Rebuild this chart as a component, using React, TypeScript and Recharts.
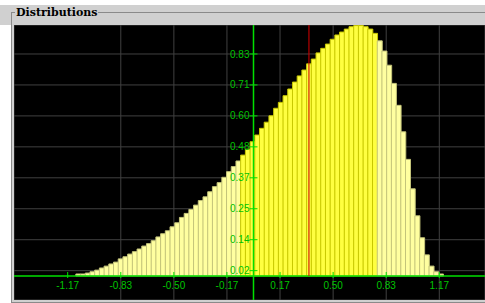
import { ComposedChart, Bar, Cell, XAxis, YAxis, CartesianGrid, ReferenceLine, ReferenceDot } from "recharts";

// histogram bins: first bin centre and bin width
const binStart = -1.1007;
const binWidth = 0.02957;

// bin heights
const density = [
  0.0075, 0.0075, 0.011, 0.016, 0.022, 0.030, 0.037, 0.045, 0.052, 0.064,
  0.072, 0.082, 0.091, 0.101, 0.112, 0.121, 0.132, 0.146, 0.158, 0.169,
  0.184, 0.199, 0.219, 0.234, 0.249, 0.265, 0.282, 0.296, 0.315, 0.334,
  0.349, 0.369, 0.390, 0.409, 0.430, 0.452, 0.474, 0.502, 0.527, 0.552,
  0.575, 0.599, 0.627, 0.649, 0.674, 0.699, 0.725, 0.748, 0.770, 0.793,
  0.811, 0.834, 0.851, 0.867, 0.885, 0.901, 0.912, 0.923, 0.932, 0.936,
  0.936, 0.932, 0.923, 0.907, 0.879, 0.841, 0.788, 0.720, 0.638, 0.539,
  0.436, 0.326, 0.225, 0.143, 0.079, 0.037, 0.016, 0.0075,
];

const xTicks = [-1.1667, -0.8333, -0.5, -0.1667, 0.1667, 0.5, 0.8333, 1.1667];
const yTicks = [0.02, 0.1357, 0.2514, 0.3671, 0.4828, 0.5985, 0.7142, 0.8299];

// highlighted interval and the red marker
const highlight = [-0.08, 0.775];
const marker = 0.348;

const xDomain = [-1.5038, 1.4536];
const yDomain = [-0.0897, 0.9383];

const data = density.map((v, i) => ({ x: binStart + i * binWidth, v }));

const GREEN = "#00e000";
const LABEL = "#00c400";
const FONT = "'Liberation Sans', Arial, sans-serif";

export default function App() {
  return (
    <div style={{ position: "absolute", left: 0, top: 0, width: 485, height: 303, background: "#fff", overflow: "hidden" }}>
      {/* panel frame */}
      <div style={{ position: "absolute", left: 0, top: 5, width: 485, height: 20, background: "#d0d0d0" }} />
      <div style={{ position: "absolute", left: 11, top: 25, width: 474, height: 277, background: "#d0d0d0" }} />
      <div style={{ position: "absolute", left: 11, top: 12, width: 474, height: 289, borderTop: "1px solid #8a8a8a", borderLeft: "1px solid #8a8a8a", borderBottom: "1px solid #8a8a8a" }} />
      <div
        style={{
          position: "absolute", left: 15, top: 5, padding: "0 1px", background: "#d0d0d0",
          fontFamily: "'DejaVu Serif', 'Liberation Serif', serif", fontWeight: "bold", fontSize: 11, lineHeight: "15px", color: "#000",
        }}
      >
        Distributions
      </div>
      <div style={{ position: "absolute", left: 14, top: 25, width: 471, height: 275, background: "#000" }}>
        <ComposedChart
          width={471}
          height={275}
          data={data}
          margin={{ top: 0, right: 0, bottom: 0, left: 0 }}
          barCategoryGap={0}
          barGap={0}
        >
          <CartesianGrid stroke="#404040" strokeWidth={1} />
          <XAxis dataKey="x" type="number" domain={xDomain} ticks={xTicks} allowDataOverflow hide />
          <YAxis type="number" domain={yDomain} ticks={yTicks} allowDataOverflow hide />
          <Bar dataKey="v" isAnimationActive={false} strokeWidth={1}>
            {data.map((d, i) => {
              const on = d.x >= highlight[0] && d.x <= highlight[1];
              return <Cell key={i} fill={on ? "#ffff40" : "#ffffa0"} stroke={on ? "#c8c800" : "#c4c47a"} />;
            })}
          </Bar>
          <ReferenceLine y={0} stroke={GREEN} strokeWidth={1.5} />
          <ReferenceLine
            segment={[{ x: 0, y: yDomain[0] }, { x: 0, y: yDomain[1] }]}
            stroke={GREEN}
            strokeWidth={1.5}
          />
          <ReferenceLine
            segment={[{ x: marker, y: 0 }, { x: marker, y: yDomain[1] }]}
            stroke="#d00000"
            strokeOpacity={0.7}
            strokeWidth={1.5}
          />
          {xTicks.map((t) => (
            <ReferenceLine key={"xt" + t} segment={[{ x: t, y: -0.0075 }, { x: t, y: 0.015 }]} stroke={GREEN} />
          ))}
          {yTicks.map((t) => (
            <ReferenceLine key={"yt" + t} segment={[{ x: -0.025, y: t }, { x: 0.025, y: t }]} stroke={GREEN} />
          ))}
          {xTicks.map((t) => (
            <ReferenceDot
              key={"xl" + t}
              x={t}
              y={-0.035}
              r={0}
              fill="none"
              stroke="none"
              label={{ value: t.toFixed(2), position: "center", fill: LABEL, fontSize: 10, fontFamily: FONT }}
            />
          ))}
          {yTicks.map((t) => (
            <ReferenceDot
              key={"yl" + t}
              x={0}
              y={t}
              r={0}
              fill="none"
              stroke="none"
              label={{ value: t.toFixed(2), position: "left", offset: 4, fill: LABEL, fontSize: 10, fontFamily: FONT }}
            />
          ))}
        </ComposedChart>
      </div>
    </div>
  );
}
